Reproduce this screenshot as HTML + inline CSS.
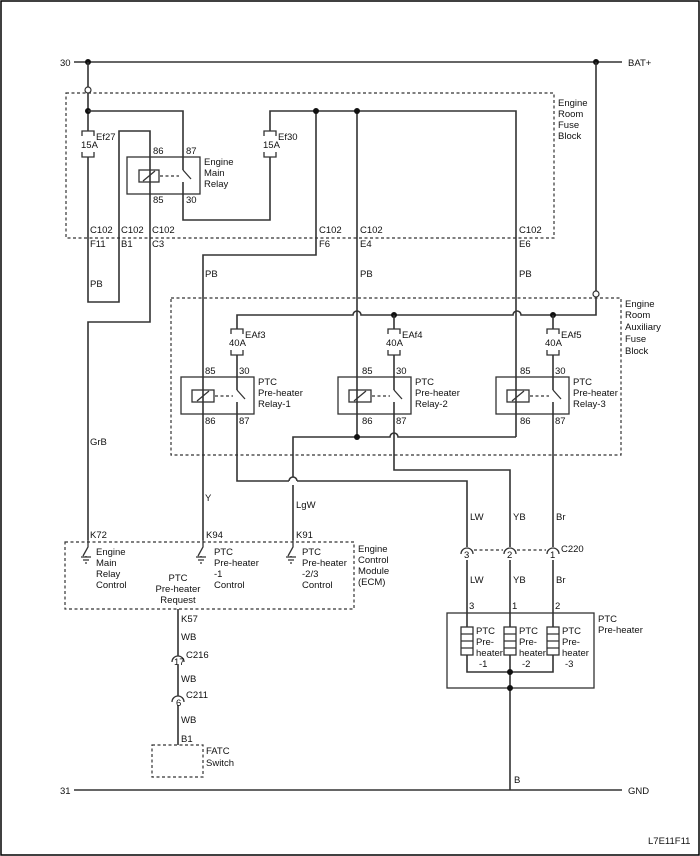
<!DOCTYPE html>
<html><head><meta charset="utf-8"><style>
body{margin:0;background:#fff}
svg{display:block}
text{font-family:"Liberation Sans",sans-serif;font-size:9.5px;fill:#111}
.w{stroke:#333;stroke-width:1.6;fill:none}
.d{stroke:#333;stroke-width:1.2;fill:none;stroke-dasharray:3,2.5}
.b{stroke:#333;stroke-width:1.3;fill:none}
</style></head><body>
<svg width="700" height="856" viewBox="0 0 700 856" xmlns="http://www.w3.org/2000/svg">
<rect x="1" y="1" width="698" height="854" fill="none" stroke="#000" stroke-width="1.5"/>
<!-- buses -->
<path class="w" d="M74 62H622M74 790H622"/>
<text x="60" y="66">30</text><text x="628" y="66">BAT+</text>
<text x="60" y="794">31</text><text x="628" y="794">GND</text>
<circle cx="88" cy="62" r="3" fill="#111"/><circle cx="596" cy="62" r="3" fill="#111"/>
<!-- engine room fuse block -->
<path class="d" d="M66 93H554V238H66Z"/>
<text x="558" y="106">Engine</text><text x="558" y="117">Room</text><text x="558" y="128">Fuse</text><text x="558" y="139">Block</text>
<path class="w" d="M88 62V87M88 93V131M88 157V302H119V131H150V322H88V540"/>
<circle cx="88" cy="90" r="3" fill="#fff" stroke="#333" stroke-width="1.2"/>
<circle cx="88" cy="111" r="3" fill="#111"/>
<path class="w" d="M88 111H183V170"/>
<!-- Ef27 -->
<path class="b" d="M82 136V131H94V136M82 152V157H94V152"/>
<text x="81" y="148">15A</text><text x="96" y="140">Ef27</text>
<!-- main relay -->
<rect class="b" x="127" y="157" width="73" height="37"/>
<rect class="b" x="139" y="170" width="20" height="12"/>
<path class="b" d="M143 181L155 171"/>
<path class="d" d="M160 176H179"/>
<path class="b" d="M183 170L191 179"/>
<path class="w" d="M183 182V220H270V157"/>
<text x="153" y="154">86</text><text x="186" y="154">87</text>
<text x="153" y="203">85</text><text x="186" y="203">30</text>
<text x="204" y="165">Engine</text><text x="204" y="176">Main</text><text x="204" y="187">Relay</text>
<!-- Ef30 -->
<path class="b" d="M264 136V131H276V136M264 152V157H276V152"/>
<text x="263" y="148">15A</text><text x="278" y="140">Ef30</text>
<path class="w" d="M270 131V111H516V315M316 111V255H203V540M357 111V437"/>
<circle cx="316" cy="111" r="3" fill="#111"/><circle cx="357" cy="111" r="3" fill="#111"/>
<text x="90" y="233">C102</text><text x="121" y="233">C102</text><text x="152" y="233">C102</text>
<text x="90" y="247">F11</text><text x="121" y="247">B1</text><text x="152" y="247">C3</text>
<text x="319" y="233">C102</text><text x="319" y="247">F6</text>
<text x="360" y="233">C102</text><text x="360" y="247">E4</text>
<text x="519" y="233">C102</text><text x="519" y="247">E6</text>
<text x="90" y="287">PB</text><text x="205" y="277">PB</text><text x="360" y="277">PB</text><text x="519" y="277">PB</text>
<!-- aux fuse block -->
<path class="d" d="M171 298H621V455H171Z"/>
<text x="625" y="307">Engine</text><text x="625" y="318">Room</text><text x="625" y="330">Auxiliary</text><text x="625" y="342">Fuse</text><text x="625" y="354">Block</text>
<path class="w" d="M596 62V291M596 297V315H521A4 4 0 0 0 513 315H361A4 4 0 0 0 353 315H237V329"/>
<path class="w" d="M516 315V437M516 319"/>
<circle cx="596" cy="294" r="3" fill="#fff" stroke="#333" stroke-width="1.2"/>
<circle cx="394" cy="315" r="3" fill="#111"/><circle cx="553" cy="315" r="3" fill="#111"/>
<path class="w" d="M394 315V329M553 315V329M237 355V390M394 355V390M553 355V390"/>
<g class="b">
<path d="M231 334V329H243V334M231 350V355H243V350"/>
<path d="M388 334V329H400V334M388 350V355H400V350"/>
<path d="M547 334V329H559V334M547 350V355H559V350"/>
</g>
<text x="229" y="346">40A</text><text x="245" y="338">EAf3</text>
<text x="386" y="346">40A</text><text x="402" y="338">EAf4</text>
<text x="545" y="346">40A</text><text x="561" y="338">EAf5</text>
<!-- PTC relays -->
<g>
<rect class="b" x="181" y="377" width="73" height="37"/>
<rect class="b" x="192" y="390" width="22" height="12" fill="#fff"/>
<path class="b" d="M197 401L209 391"/><path class="d" d="M215 396H233"/><path class="b" d="M237 390L245 399"/>
<text x="205" y="374">85</text><text x="239" y="374">30</text><text x="205" y="424">86</text><text x="239" y="424">87</text>
<text x="258" y="385">PTC</text><text x="258" y="396">Pre-heater</text><text x="258" y="407">Relay-1</text>
</g>
<g>
<rect class="b" x="338" y="377" width="73" height="37"/>
<rect class="b" x="349" y="390" width="22" height="12" fill="#fff"/>
<path class="b" d="M354 401L366 391"/><path class="d" d="M372 396H390"/><path class="b" d="M394 390L402 399"/>
<text x="362" y="374">85</text><text x="396" y="374">30</text><text x="362" y="424">86</text><text x="396" y="424">87</text>
<text x="415" y="385">PTC</text><text x="415" y="396">Pre-heater</text><text x="415" y="407">Relay-2</text>
</g>
<g>
<rect class="b" x="496" y="377" width="73" height="37"/>
<rect class="b" x="507" y="390" width="22" height="12" fill="#fff"/>
<path class="b" d="M512 401L524 391"/><path class="d" d="M530 396H549"/><path class="b" d="M553 390L561 399"/>
<text x="520" y="374">85</text><text x="555" y="374">30</text><text x="520" y="424">86</text><text x="555" y="424">87</text>
<text x="573" y="385">PTC</text><text x="573" y="396">Pre-heater</text><text x="573" y="407">Relay-3</text>
</g>
<!-- relay outputs -->
<path class="w" d="M516 437H398A4 4 0 0 0 390 437H293V477M293 485V540"/>
<path class="w" d="M297 481A4 4 0 0 0 289 481"/>
<circle cx="357" cy="437" r="3" fill="#111"/>
<path class="w" d="M237 402V481H289M297 481H467V547"/>
<path class="w" d="M394 402V470H510V547M553 402V547"/>
<text x="205" y="501">Y</text><text x="296" y="508">LgW</text>
<text x="90" y="445">GrB</text>
<text x="470" y="520">LW</text><text x="513" y="520">YB</text><text x="556" y="520">Br</text>
<!-- C220 -->
<g class="b">
<path d="M461 554A6 6 0 0 1 473 554"/><path d="M504 554A6 6 0 0 1 516 554"/><path d="M547 554A6 6 0 0 1 559 554"/>
</g>
<path class="d" d="M474 550H503M517 550H546"/>
<text x="464" y="558" font-size="8.5">3</text><text x="507" y="558" font-size="8.5">2</text><text x="550" y="558" font-size="8.5">1</text>
<text x="561" y="552">C220</text>
<path class="w" d="M467 560V627M510 560V627M553 560V627"/>
<text x="470" y="583">LW</text><text x="513" y="583">YB</text><text x="556" y="583">Br</text>
<text x="469" y="609">3</text><text x="512" y="609">1</text><text x="555" y="609">2</text>
<rect class="b" x="447" y="613" width="147" height="75"/>
<text x="598" y="622">PTC</text><text x="598" y="633">Pre-heater</text>
<g class="b" fill="#fff">
<rect x="461" y="627" width="12" height="28"/><path d="M461 634H473M461 641H473M461 648H473"/>
<rect x="504" y="627" width="12" height="28"/><path d="M504 634H516M504 641H516M504 648H516"/>
<rect x="547" y="627" width="12" height="28"/><path d="M547 634H559M547 641H559M547 648H559"/>
</g>
<text x="476" y="634">PTC</text><text x="476" y="645">Pre-</text><text x="476" y="656">heater</text><text x="479" y="667">-1</text>
<text x="519" y="634">PTC</text><text x="519" y="645">Pre-</text><text x="519" y="656">heater</text><text x="522" y="667">-2</text>
<text x="562" y="634">PTC</text><text x="562" y="645">Pre-</text><text x="562" y="656">heater</text><text x="565" y="667">-3</text>
<path class="w" d="M467 655V672H553V655M510 655V790"/>
<circle cx="510" cy="672" r="3" fill="#111"/><circle cx="510" cy="688" r="3" fill="#111"/>
<text x="514" y="783">B</text>
<!-- ECM -->
<path class="d" d="M65 542H354V609H65Z"/>
<text x="358" y="552">Engine</text><text x="358" y="563">Control</text><text x="358" y="574">Module</text><text x="358" y="585">(ECM)</text>
<text x="90" y="538">K72</text><text x="206" y="538">K94</text><text x="296" y="538">K91</text>
<g class="b">
<path d="M88 540V547L83 556M81 557H91M83 560H89M85 563H87"/>
<path d="M203 540V547L198 556M196 557H206M198 560H204M200 563H202"/>
<path d="M293 540V547L288 556M286 557H296M288 560H294M290 563H292"/>
<path d="M86 556V557M201 556V557M291 556V557"/>
</g>
<text x="96" y="555">Engine</text><text x="96" y="566">Main</text><text x="96" y="577">Relay</text><text x="96" y="588">Control</text>
<text x="214" y="555">PTC</text><text x="214" y="566">Pre-heater</text><text x="214" y="577">-1</text><text x="214" y="588">Control</text>
<text x="302" y="555">PTC</text><text x="302" y="566">Pre-heater</text><text x="302" y="577">-2/3</text><text x="302" y="588">Control</text>
<text x="178" y="581" text-anchor="middle">PTC</text><text x="178" y="592" text-anchor="middle">Pre-heater</text><text x="178" y="603" text-anchor="middle">Request</text>
<path class="w" d="M178 609V656M178 665V696M178 705V745"/>
<path class="b" d="M172 662A6 6 0 0 1 184 662M172 702A6 6 0 0 1 184 702"/>
<text x="174" y="665" font-size="8.5">17</text><text x="176" y="706" font-size="8.5">6</text>
<text x="186" y="658">C216</text><text x="186" y="698">C211</text>
<text x="181" y="622">K57</text><text x="181" y="640">WB</text><text x="181" y="682">WB</text><text x="181" y="723">WB</text><text x="181" y="742">B1</text>
<path class="d" d="M152 745H203V777H152Z"/>
<text x="206" y="754">FATC</text><text x="206" y="766">Switch</text>
<text x="648" y="844" font-size="8.5">L7E11F11</text>
</svg>
</body></html>
